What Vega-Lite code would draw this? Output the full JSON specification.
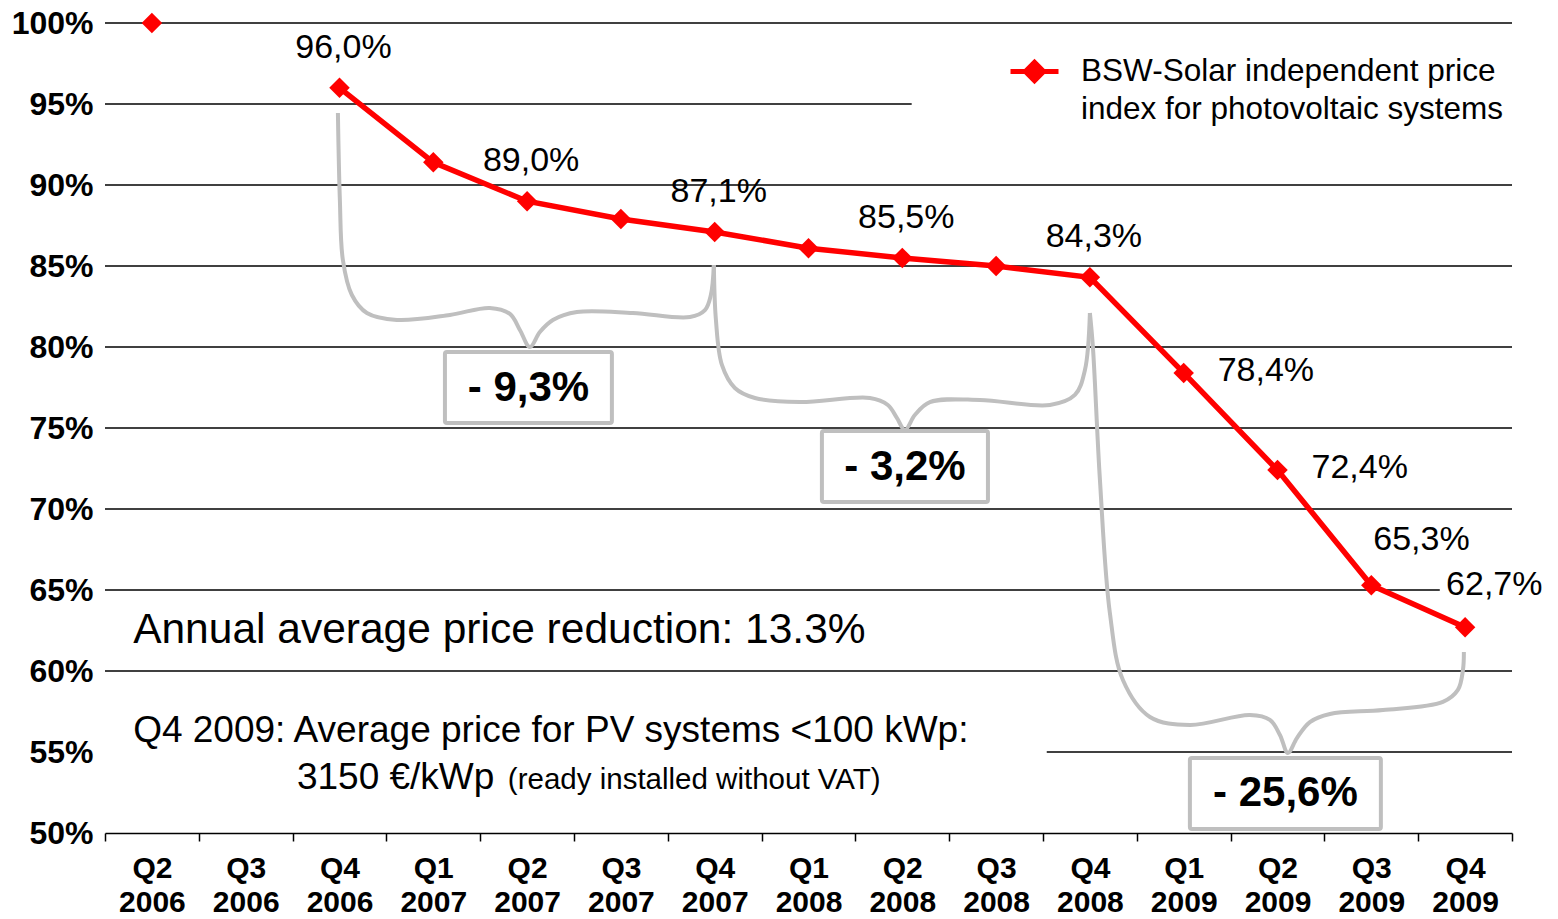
{
  "$schema": "https://vega.github.io/schema/vega-lite/v6.json",
  "width": 1407,
  "height": 810,
  "autosize": {"type": "none"},
  "padding": {"left": 105, "top": 23, "right": 46, "bottom": 86},
  "background": "#ffffff",
  "config": {
    "view": {"stroke": null},
    "font": "Liberation Sans",
    "locale": {"number": {"decimal": ",", "thousands": ".", "grouping": [3], "currency": ["", " €"]}},
    "axis": {"grid": false}
  },
  "datasets": {
    "index": [
      {"i": 0, "q": "Q2 2006", "v": 1.0},
      {"i": 1, "q": "Q3 2006", "v": null},
      {"i": 2, "q": "Q4 2006", "v": 0.96},
      {"i": 3, "q": "Q1 2007", "v": 0.914},
      {"i": 4, "q": "Q2 2007", "v": 0.89},
      {"i": 5, "q": "Q3 2007", "v": 0.879},
      {"i": 6, "q": "Q4 2007", "v": 0.871},
      {"i": 7, "q": "Q1 2008", "v": 0.861},
      {"i": 8, "q": "Q2 2008", "v": 0.855},
      {"i": 9, "q": "Q3 2008", "v": 0.85},
      {"i": 10, "q": "Q4 2008", "v": 0.843},
      {"i": 11, "q": "Q1 2009", "v": 0.784},
      {"i": 12, "q": "Q2 2009", "v": 0.724},
      {"i": 13, "q": "Q3 2009", "v": 0.653},
      {"i": 14, "q": "Q4 2009", "v": 0.627}
    ],
    "grid": [
      {"y": 1.0, "a": -0.5, "b": 14.5},
      {"y": 0.95, "a": -0.5, "b": 8.1},
      {"y": 0.9, "a": -0.5, "b": 14.5},
      {"y": 0.85, "a": -0.5, "b": 14.5},
      {"y": 0.8, "a": -0.5, "b": 14.5},
      {"y": 0.75, "a": -0.5, "b": 14.5},
      {"y": 0.7, "a": -0.5, "b": 14.5},
      {"y": 0.65, "a": -0.5, "b": 13.73},
      {"y": 0.6, "a": -0.5, "b": 14.5},
      {"y": 0.55, "a": 9.54, "b": 14.5}
    ],
    "braces": [
      {"b": 1, "k": 1, "i": 1.983, "v": 0.9444},
      {"b": 1, "k": 2, "i": 2.004, "v": 0.8907},
      {"b": 1, "k": 3, "i": 2.036, "v": 0.8537},
      {"b": 1, "k": 4, "i": 2.132, "v": 0.8321},
      {"b": 1, "k": 5, "i": 2.292, "v": 0.821},
      {"b": 1, "k": 6, "i": 2.612, "v": 0.8167},
      {"b": 1, "k": 7, "i": 3.177, "v": 0.8198},
      {"b": 1, "k": 8, "i": 3.603, "v": 0.8241},
      {"b": 1, "k": 9, "i": 3.817, "v": 0.8204},
      {"b": 1, "k": 10, "i": 3.923, "v": 0.8105},
      {"b": 1, "k": 11, "i": 4.03, "v": 0.8},
      {"b": 1, "k": 12, "i": 4.136, "v": 0.8093},
      {"b": 1, "k": 13, "i": 4.275, "v": 0.8167},
      {"b": 1, "k": 14, "i": 4.531, "v": 0.8216},
      {"b": 1, "k": 15, "i": 5.128, "v": 0.821},
      {"b": 1, "k": 16, "i": 5.736, "v": 0.8185},
      {"b": 1, "k": 17, "i": 5.896, "v": 0.8228},
      {"b": 1, "k": 18, "i": 5.959, "v": 0.8321},
      {"b": 1, "k": 19, "i": 5.991, "v": 0.8506},
      {"b": 2, "k": 1, "i": 5.991, "v": 0.8506},
      {"b": 2, "k": 2, "i": 6.013, "v": 0.8167},
      {"b": 2, "k": 3, "i": 6.077, "v": 0.7889},
      {"b": 2, "k": 4, "i": 6.215, "v": 0.7747},
      {"b": 2, "k": 5, "i": 6.429, "v": 0.7685},
      {"b": 2, "k": 6, "i": 6.908, "v": 0.766},
      {"b": 2, "k": 7, "i": 7.655, "v": 0.7685},
      {"b": 2, "k": 8, "i": 7.846, "v": 0.7642},
      {"b": 2, "k": 9, "i": 7.942, "v": 0.7562},
      {"b": 2, "k": 10, "i": 8.028, "v": 0.7488},
      {"b": 2, "k": 11, "i": 8.134, "v": 0.758},
      {"b": 2, "k": 12, "i": 8.294, "v": 0.766},
      {"b": 2, "k": 13, "i": 8.827, "v": 0.7673},
      {"b": 2, "k": 14, "i": 9.574, "v": 0.7642},
      {"b": 2, "k": 15, "i": 9.84, "v": 0.7704},
      {"b": 2, "k": 16, "i": 9.947, "v": 0.7858},
      {"b": 2, "k": 17, "i": 10.0, "v": 0.821},
      {"b": 3, "k": 1, "i": 10.0, "v": 0.821},
      {"b": 3, "k": 2, "i": 10.032, "v": 0.8},
      {"b": 3, "k": 3, "i": 10.107, "v": 0.7179},
      {"b": 3, "k": 4, "i": 10.213, "v": 0.6358},
      {"b": 3, "k": 5, "i": 10.352, "v": 0.5944},
      {"b": 3, "k": 6, "i": 10.64, "v": 0.5716},
      {"b": 3, "k": 7, "i": 11.066, "v": 0.5667},
      {"b": 3, "k": 8, "i": 11.706, "v": 0.5728},
      {"b": 3, "k": 9, "i": 11.919, "v": 0.5698},
      {"b": 3, "k": 10, "i": 12.026, "v": 0.5605},
      {"b": 3, "k": 11, "i": 12.111, "v": 0.5494},
      {"b": 3, "k": 12, "i": 12.207, "v": 0.5586},
      {"b": 3, "k": 13, "i": 12.345, "v": 0.5685},
      {"b": 3, "k": 14, "i": 12.559, "v": 0.5735},
      {"b": 3, "k": 15, "i": 13.124, "v": 0.5759},
      {"b": 3, "k": 16, "i": 13.763, "v": 0.5809},
      {"b": 3, "k": 17, "i": 13.923, "v": 0.5883},
      {"b": 3, "k": 18, "i": 13.977, "v": 0.6006},
      {"b": 3, "k": 19, "i": 13.987, "v": 0.6117}
    ],
    "boxes": [
      {"x1": 3.124, "x2": 4.904, "y1": 0.7969, "y2": 0.7531, "xm": 4.014, "ym": 0.775, "t": "- 9,3%"},
      {"x1": 7.143, "x2": 8.913, "y1": 0.7481, "y2": 0.7043, "xm": 8.028, "ym": 0.7262, "t": "- 3,2%"},
      {"x1": 11.066, "x2": 13.102, "y1": 0.5463, "y2": 0.5025, "xm": 12.084, "ym": 0.5244, "t": "- 25,6%"}
    ]
  },
  "layer": [
    {
      "layer": [
        {
          "data": {"name": "grid"},
          "mark": {"type": "rule", "color": "#000000", "strokeWidth": 1.5},
          "encoding": {
            "x": {"field": "a", "type": "quantitative", "scale": {"domain": [-0.5, 14.5], "nice": false, "zero": false}, "axis": null},
            "x2": {"field": "b"},
            "y": {"field": "y", "type": "quantitative", "scale": {"domain": [0.5, 1.0], "nice": false, "zero": false}, "axis": null}
          }
        },
        {
          "data": {"name": "braces"},
          "mark": {"type": "line", "color": "#bfbfbf", "strokeWidth": 4, "interpolate": "catmull-rom"},
          "encoding": {
            "x": {"field": "i", "type": "quantitative", "scale": {"domain": [-0.5, 14.5], "nice": false, "zero": false}, "axis": null},
            "y": {"field": "v", "type": "quantitative", "scale": {"domain": [0.5, 1.0], "nice": false, "zero": false}, "axis": null},
            "detail": {"field": "b", "type": "nominal"},
            "order": {"field": "k", "type": "quantitative"}
          }
        },
        {
          "data": {"name": "boxes"},
          "mark": {"type": "rect", "fill": "#ffffff", "stroke": "#bfbfbf", "strokeWidth": 4, "cornerRadius": 2},
          "encoding": {
            "x": {"field": "x1", "type": "quantitative", "scale": {"domain": [-0.5, 14.5], "nice": false, "zero": false}, "axis": null},
            "x2": {"field": "x2"},
            "y": {"field": "y1", "type": "quantitative", "scale": {"domain": [0.5, 1.0], "nice": false, "zero": false}, "axis": null},
            "y2": {"field": "y2"}
          }
        },
        {
          "data": {"name": "boxes"},
          "mark": {"type": "text", "font": "Liberation Sans", "fontSize": 42, "fontWeight": "bold", "color": "#000000", "align": "center", "baseline": "middle"},
          "encoding": {
            "x": {"field": "xm", "type": "quantitative", "scale": {"domain": [-0.5, 14.5], "nice": false, "zero": false}, "axis": null},
            "y": {"field": "ym", "type": "quantitative", "scale": {"domain": [0.5, 1.0], "nice": false, "zero": false}, "axis": null},
            "text": {"field": "t", "type": "nominal"}
          }
        },
        {
          "data": {"values": [{}]},
          "mark": {"type": "text", "text": "Annual average price reduction: 13.3%", "font": "Liberation Sans", "fontSize": 42.5, "color": "#000000", "align": "left", "baseline": "alphabetic"},
          "encoding": {
            "x": {"datum": -0.2, "type": "quantitative", "scale": {"domain": [-0.5, 14.5], "nice": false, "zero": false}, "axis": null},
            "y": {"datum": 0.6173, "type": "quantitative", "scale": {"domain": [0.5, 1.0], "nice": false, "zero": false}, "axis": null}
          }
        },
        {
          "data": {"values": [{}]},
          "mark": {"type": "text", "text": "Q4 2009: Average price for PV systems <100 kWp:", "font": "Liberation Sans", "fontSize": 37, "color": "#000000", "align": "left", "baseline": "alphabetic"},
          "encoding": {
            "x": {"datum": -0.2, "type": "quantitative", "scale": {"domain": [-0.5, 14.5], "nice": false, "zero": false}, "axis": null},
            "y": {"datum": 0.5562, "type": "quantitative", "scale": {"domain": [0.5, 1.0], "nice": false, "zero": false}, "axis": null}
          }
        },
        {
          "data": {"values": [{}]},
          "mark": {"type": "text", "text": "3150 €/kWp", "font": "Liberation Sans", "fontSize": 37, "color": "#000000", "align": "left", "baseline": "alphabetic"},
          "encoding": {
            "x": {"datum": 1.546, "type": "quantitative", "scale": {"domain": [-0.5, 14.5], "nice": false, "zero": false}, "axis": null},
            "y": {"datum": 0.5272, "type": "quantitative", "scale": {"domain": [0.5, 1.0], "nice": false, "zero": false}, "axis": null}
          }
        },
        {
          "data": {"values": [{}]},
          "mark": {"type": "text", "text": "(ready installed without VAT)", "font": "Liberation Sans", "fontSize": 29.5, "color": "#000000", "align": "left", "baseline": "alphabetic"},
          "encoding": {
            "x": {"datum": 3.795, "type": "quantitative", "scale": {"domain": [-0.5, 14.5], "nice": false, "zero": false}, "axis": null},
            "y": {"datum": 0.5272, "type": "quantitative", "scale": {"domain": [0.5, 1.0], "nice": false, "zero": false}, "axis": null}
          }
        }
      ]
    },
    {
      "data": {"name": "index"},
      "encoding": {
        "x": {
          "field": "q",
          "type": "nominal",
          "bandPosition": 0.5,
          "scale": {"type": "band", "paddingInner": 0, "paddingOuter": 0, "domain": ["Q2 2006", "Q3 2006", "Q4 2006", "Q1 2007", "Q2 2007", "Q3 2007", "Q4 2007", "Q1 2008", "Q2 2008", "Q3 2008", "Q4 2008", "Q1 2009", "Q2 2009", "Q3 2009", "Q4 2009"]},
          "axis": {
            "title": null, "labelAngle": 0, "labelExpr": "split(datum.label, ' ')",
            "labelFont": "Liberation Sans", "labelFontSize": 30, "labelFontWeight": "bold", "labelColor": "#000000",
            "labelLineHeight": 34, "labelPadding": 12, "tickBand": "extent", "tickSize": 8, "tickColor": "#000000",
            "tickWidth": 1.5, "domainColor": "#000000", "domainWidth": 1.5, "grid": false, "labelOverlap": false
          }
        },
        "y": {
          "field": "v",
          "type": "quantitative",
          "scale": {"domain": [0.5, 1.0], "nice": false, "zero": false},
          "axis": {
            "title": null, "orient": "left", "values": [0.5, 0.55, 0.6, 0.65, 0.7, 0.75, 0.8, 0.85, 0.9, 0.95, 1.0], "format": ".0%",
            "labelFont": "Liberation Sans", "labelFontSize": 32, "labelFontWeight": "bold", "labelColor": "#000000",
            "labelPadding": 12, "ticks": false, "domain": false, "grid": false
          }
        }
      },
      "layer": [
        {
          "transform": [{"filter": "datum.i >= 2"}],
          "mark": {"type": "line", "strokeWidth": 5.5},
          "encoding": {
            "color": {
              "datum": "BSW-Solar independent price|index for photovoltaic systems",
              "type": "nominal",
              "scale": {"range": ["#ff0000"]},
              "legend": {
                "title": null, "orient": "none", "legendX": 903, "legendY": 22, "padding": 0,
                "symbolType": "M-1,0L1,0M0,-0.38L0.38,0L0,0.38L-0.38,0Z", "symbolSize": 2304,
                "symbolStrokeWidth": 5, "symbolFillColor": "#ff0000", "symbolStrokeColor": "#ff0000",
                "labelExpr": "split(datum.label, '|')", "labelFont": "Liberation Sans", "labelFontSize": 31.5,
                "labelColor": "#000000", "labelOffset": 20, "labelLimit": 0,
                "labelBaseline": "middle",
                "encode": {
                  "symbols": {"update": {"fill": {"value": "#ff0000"}, "stroke": {"value": "#ff0000"}, "strokeWidth": {"value": 5}}},
                  "labels": {"update": {"lineHeight": {"value": 38}}}
                }
              }
            }
          }
        },
        {
          "transform": [{"filter": "datum.v != null"}],
          "mark": {"type": "point", "shape": "diamond", "filled": true, "size": 420, "color": "#ff0000", "opacity": 1}
        },
        {
          "transform": [{"filter": "indexof([2, 4, 6, 8, 10], datum.i) >= 0"}],
          "mark": {"type": "text", "font": "Liberation Sans", "fontSize": 34, "color": "#000000", "align": "center", "baseline": "middle", "dx": 4, "dy": -40},
          "encoding": {"text": {"field": "v", "type": "quantitative", "format": ".1%"}}
        },
        {
          "transform": [{"filter": "datum.i == 11 || datum.i == 12"}],
          "mark": {"type": "text", "font": "Liberation Sans", "fontSize": 34, "color": "#000000", "align": "left", "baseline": "middle", "dx": 34, "dy": -2},
          "encoding": {"text": {"field": "v", "type": "quantitative", "format": ".1%"}}
        },
        {
          "transform": [{"filter": "datum.i == 13"}],
          "mark": {"type": "text", "font": "Liberation Sans", "fontSize": 34, "color": "#000000", "align": "left", "baseline": "middle", "dx": 2, "dy": -45},
          "encoding": {"text": {"field": "v", "type": "quantitative", "format": ".1%"}}
        },
        {
          "transform": [{"filter": "datum.i == 14"}],
          "mark": {"type": "text", "font": "Liberation Sans", "fontSize": 34, "color": "#000000", "align": "left", "baseline": "middle", "dx": -19, "dy": -42},
          "encoding": {"text": {"field": "v", "type": "quantitative", "format": ".1%"}}
        }
      ]
    }
  ],
  "resolve": {"scale": {"x": "independent"}, "axis": {"y": "independent"}}
}
